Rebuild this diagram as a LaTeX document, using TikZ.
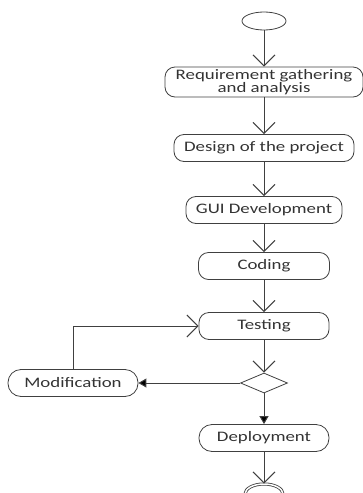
\documentclass[tikz,border=0pt]{standalone}
\usepackage{fontspec}
\setmainfont{Carlito}
\newfontfamily\boxfont[FakeStretch=1.3]{Carlito}
\usepackage{tikz}
\usetikzlibrary{arrows.meta,shapes.geometric}

\begin{document}
\begin{tikzpicture}[x=1pt,y=-1pt,
	act/.style={draw=black!75,rounded corners=10pt,minimum height=27pt,inner sep=1pt,
		font=\boxfont\fontsize{14.5}{13.5}\selectfont,text=black!80,align=center,line width=0.8pt},
	flow/.style={draw=black!75,line width=1pt,-{Straight Barb[length=11pt,width=22pt]}},
	solid flow/.style={draw=black!75,line width=1pt,-{Triangle[length=8pt,width=9pt]}}]
	\useasboundingbox (0,0) rectangle (362,493);

	\node[shape=ellipse,draw=black!75,line width=0.8pt,minimum width=44pt,minimum height=18pt,inner sep=0pt] (start) at (264, 21) {};
	\node[act,minimum width=198pt,minimum height=30pt,inner sep=0pt] (req) at (264, 82) {Requirement gathering\\and analysis};
	\node[act,minimum width=180pt] (design) at (264, 148) {Design of the project};
	\node[act,minimum width=156pt] (gui) at (264, 210) {GUI Development};
	\node[act,minimum width=131pt] (code) at (264, 266) {Coding};
	\node[act,minimum width=130pt] (test) at (264, 326) {Testing};
	\node[shape=diamond,draw=black!75,line width=0.8pt,minimum width=47pt,minimum height=20pt,inner sep=0pt,aspect=2.3] (dec) at (264, 383) {};
	\node[act,minimum width=130pt,rounded corners=13pt] (mod) at (73, 383) {Modification};
	\node[act,minimum width=130pt,rounded corners=13pt] (deploy) at (264, 438) {Deployment};
	\node[shape=ellipse,draw=black!75,line width=0.8pt,double,double distance=1.5pt,minimum width=38pt,minimum height=20pt,inner sep=0pt] (end) at (264, 494) {};

	\path[flow] (start) edge (req);
	\path[flow] (req) edge (design);
	\path[flow] (design) edge (gui);
	\path[flow] (gui) edge (code);
	\path[flow] (code) edge (test);
	\path[flow] (test) edge (dec);
	\path[solid flow] (dec) edge (mod);
	\path[solid flow] (dec) edge (deploy);
	\path[flow] (deploy) edge (end);
	\draw[flow] (mod.north) |- (test.west);

\end{tikzpicture}
\end{document}
